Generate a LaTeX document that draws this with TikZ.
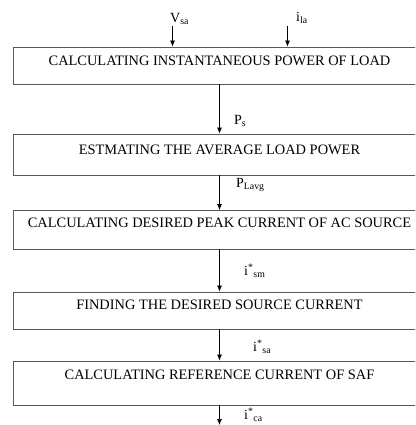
\documentclass[tikz,border=0pt]{standalone}
\usepackage{fontspec}
\setmainfont{Liberation Serif}
\usetikzlibrary{arrows.meta}

\tikzset{
  stage/.style 2 args={draw=black!65, line width=0.8pt, inner sep=0pt, anchor=base,
    minimum width=412pt, text height=#1, text depth=#2,
    font=\fontsize{14.4}{17}\selectfont},
  flow/.style={line width=0.7pt, -{Latex[length=6pt,width=5pt]}},
  sig/.style={anchor=west, inner sep=0pt, font=\fontsize{14}{16}\selectfont}
}

\begin{document}
\begin{tikzpicture}[x=1pt,y=-1pt]
\clip (0,0) rectangle (415,425);
\node[stage={18.5pt}{18.5pt}] (B1) at (219.5,65.5) {CALCULATING INSTANTANEOUS POWER OF LOAD};
\node[stage={20.5pt}{20.5pt}] (B2) at (219.5,154.5) {ESTMATING THE AVERAGE LOAD POWER};
\node[stage={17pt}{21.5pt}] (B3) at (219.5,227.5) {CALCULATING DESIRED PEAK CURRENT OF AC SOURCE};
\node[stage={17.5pt}{19.5pt}] (B4) at (219.5,309.5) {FINDING THE DESIRED SOURCE CURRENT};
\node[stage={18.5pt}{25.5pt}] (B5) at (219.5,379.5) {CALCULATING REFERENCE CURRENT OF SAF};

% inputs
\coordinate (Vin) at (172.5,26);
\coordinate (Iin) at (287.5,26);
\coordinate (Out) at (219.5,425);
\draw[flow] (Vin) -- (Vin |- B1.north);
\draw[flow] (Iin) -- (Iin |- B1.north);

% chain
\draw[flow] (B1) -- (B2);
\draw[flow] (B2) -- (B3);
\draw[flow] (B3) -- (B4);
\draw[flow] (B4) -- (B5);
\draw[flow] (B5) -- (Out);

% signal labels
\node[sig] (Vsa) at (170,19) {V\textsubscript{sa}};
\node[sig] (Ila) at (296,18) {i\textsubscript{la}};
\node[sig] (Ps) at (234,121) {P\textsubscript{s}};
\node[sig] (Plavg) at (236,185) {P\textsubscript{Lavg}};
\node[sig] (Ism) at (244,271) {i\textsuperscript{*}\textsubscript{sm}};
\node[sig] (Isa) at (253,347) {i\textsuperscript{*}\textsubscript{sa}};
\node[sig] (Ica) at (244,415) {i\textsuperscript{*}\textsubscript{ca}};
\end{tikzpicture}
\end{document}
